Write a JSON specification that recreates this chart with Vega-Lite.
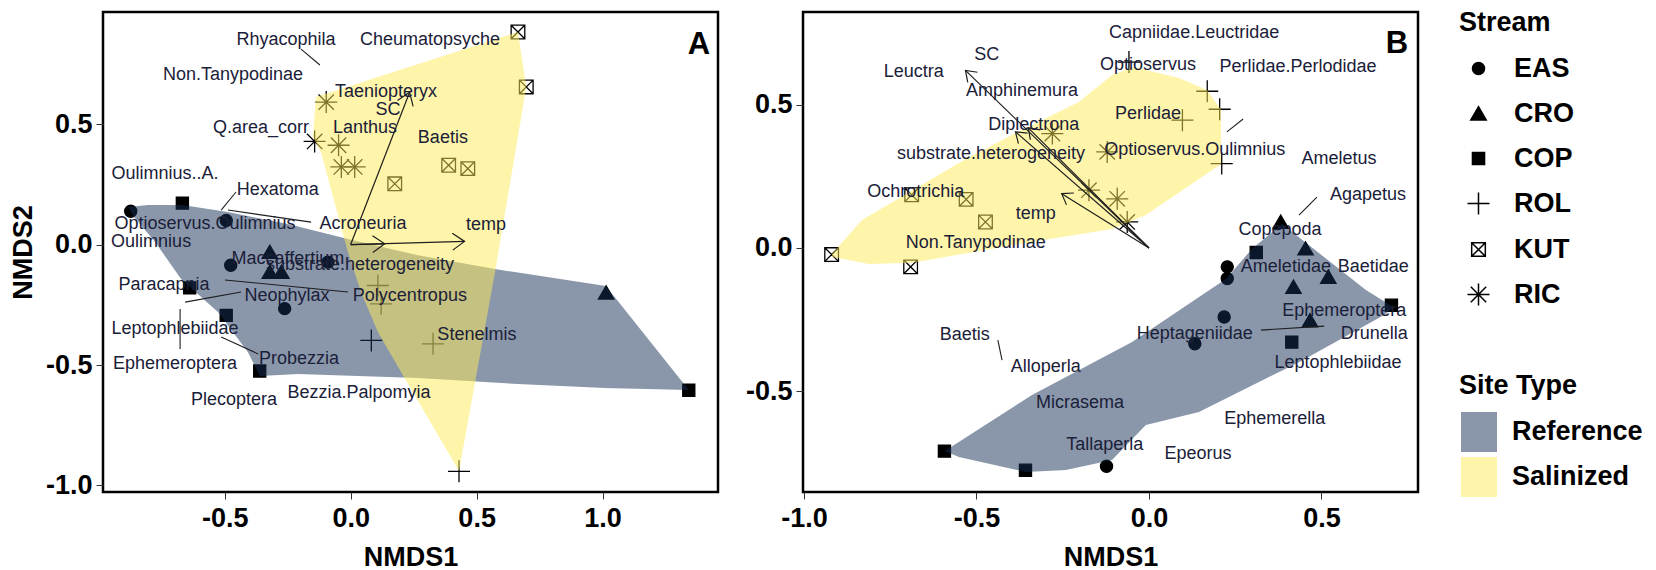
{
  "$schema": "https://vega.github.io/schema/vega-lite/v6.json",
  "padding": {"left": 8, "top": 10, "right": 0, "bottom": 0},
  "background": "white",
  "config": {
    "locale": {"number": {"decimal": ".", "thousands": ",", "grouping": [3], "currency": ["$", ""], "minus": "-"}},
    "view": {"stroke": "black", "strokeWidth": 2.5},
    "axis": {
      "grid": false, "domain": false, "tickColor": "#333", "tickSize": 7, "tickWidth": 1,
      "labelFont": "Liberation Sans", "labelFontSize": 27, "labelFontWeight": "bold", "labelColor": "black",
      "titleFont": "Liberation Sans", "titleFontSize": 27, "titleFontWeight": "bold", "titleColor": "black"
    },
    "axisX": {"labelPadding": 6, "titlePadding": 13},
    "axisY": {"labelPadding": 4, "titlePadding": 8},
    "legend": {
      "labelFont": "Liberation Sans", "labelFontSize": 27, "labelFontWeight": "bold", "labelColor": "black",
      "titleFont": "Liberation Sans", "titleFontSize": 27, "titleFontWeight": "bold", "titleColor": "black"
    }
  },
  "datasets": {
    "sitesA": [
      {"Stream": "EAS", "x": -0.873, "y": 0.138}, {"Stream": "EAS", "x": -0.494, "y": 0.100}, {"Stream": "EAS", "x": -0.476, "y": -0.086},
      {"Stream": "EAS", "x": -0.090, "y": -0.073}, {"Stream": "EAS", "x": -0.262, "y": -0.266},
      {"Stream": "CRO", "x": -0.321, "y": -0.031}, {"Stream": "CRO", "x": -0.321, "y": -0.114}, {"Stream": "CRO", "x": -0.275, "y": -0.114},
      {"Stream": "CRO", "x": 1.014, "y": -0.200},
      {"Stream": "COP", "x": -0.668, "y": 0.172}, {"Stream": "COP", "x": -0.639, "y": -0.180}, {"Stream": "COP", "x": -0.494, "y": -0.294},
      {"Stream": "COP", "x": -0.361, "y": -0.525}, {"Stream": "COP", "x": 1.342, "y": -0.605},
      {"Stream": "ROL", "x": 0.430, "y": -0.941}, {"Stream": "ROL", "x": 0.327, "y": -0.412}, {"Stream": "ROL", "x": 0.082, "y": -0.398},
      {"Stream": "ROL", "x": 0.108, "y": -0.170}, {"Stream": "ROL", "x": 0.121, "y": -0.246},
      {"Stream": "KUT", "x": 0.664, "y": 0.882}, {"Stream": "KUT", "x": 0.697, "y": 0.654}, {"Stream": "KUT", "x": 0.389, "y": 0.329},
      {"Stream": "KUT", "x": 0.465, "y": 0.315}, {"Stream": "KUT", "x": 0.175, "y": 0.252},
      {"Stream": "RIC", "x": -0.097, "y": 0.591}, {"Stream": "RIC", "x": -0.143, "y": 0.428}, {"Stream": "RIC", "x": -0.048, "y": 0.412},
      {"Stream": "RIC", "x": -0.037, "y": 0.322}, {"Stream": "RIC", "x": 0.016, "y": 0.322}
    ],
    "sitesB": [
      {"Stream": "KUT", "x": -0.920, "y": -0.023}, {"Stream": "KUT", "x": -0.691, "y": -0.066}, {"Stream": "KUT", "x": -0.688, "y": 0.186},
      {"Stream": "KUT", "x": -0.530, "y": 0.170}, {"Stream": "KUT", "x": -0.474, "y": 0.091},
      {"Stream": "RIC", "x": -0.280, "y": 0.400}, {"Stream": "RIC", "x": -0.121, "y": 0.336}, {"Stream": "RIC", "x": -0.174, "y": 0.202},
      {"Stream": "RIC", "x": -0.092, "y": 0.172}, {"Stream": "RIC", "x": -0.063, "y": 0.091},
      {"Stream": "ROL", "x": -0.058, "y": 0.650}, {"Stream": "ROL", "x": 0.169, "y": 0.548}, {"Stream": "ROL", "x": 0.205, "y": 0.485},
      {"Stream": "ROL", "x": 0.097, "y": 0.447}, {"Stream": "ROL", "x": 0.211, "y": 0.295},
      {"Stream": "EAS", "x": 0.227, "y": -0.066}, {"Stream": "EAS", "x": 0.227, "y": -0.107}, {"Stream": "EAS", "x": 0.218, "y": -0.241},
      {"Stream": "EAS", "x": 0.133, "y": -0.335}, {"Stream": "EAS", "x": -0.123, "y": -0.763},
      {"Stream": "CRO", "x": 0.382, "y": 0.091}, {"Stream": "CRO", "x": 0.454, "y": -0.002}, {"Stream": "CRO", "x": 0.520, "y": -0.101},
      {"Stream": "CRO", "x": 0.419, "y": -0.136}, {"Stream": "CRO", "x": 0.467, "y": -0.253},
      {"Stream": "COP", "x": 0.311, "y": -0.016}, {"Stream": "COP", "x": 0.703, "y": -0.200}, {"Stream": "COP", "x": 0.414, "y": -0.329},
      {"Stream": "COP", "x": -0.593, "y": -0.710}, {"Stream": "COP", "x": -0.358, "y": -0.777}
    ],
    "hullA": [
      {"SiteType": "Reference", "i": 1, "x": -0.883, "y": 0.156}, {"SiteType": "Reference", "i": 2, "x": -0.804, "y": 0.164},
      {"SiteType": "Reference", "i": 3, "x": -0.669, "y": 0.164}, {"SiteType": "Reference", "i": 4, "x": -0.487, "y": 0.135},
      {"SiteType": "Reference", "i": 5, "x": -0.249, "y": 0.085}, {"SiteType": "Reference", "i": 6, "x": -0.011, "y": 0.023},
      {"SiteType": "Reference", "i": 7, "x": 0.267, "y": -0.044}, {"SiteType": "Reference", "i": 8, "x": 0.573, "y": -0.102},
      {"SiteType": "Reference", "i": 9, "x": 1.013, "y": -0.172}, {"SiteType": "Reference", "i": 10, "x": 1.342, "y": -0.604},
      {"SiteType": "Reference", "i": 11, "x": 1.009, "y": -0.595}, {"SiteType": "Reference", "i": 12, "x": 0.664, "y": -0.579},
      {"SiteType": "Reference", "i": 13, "x": 0.267, "y": -0.554}, {"SiteType": "Reference", "i": 14, "x": -0.209, "y": -0.537},
      {"SiteType": "Reference", "i": 15, "x": -0.360, "y": -0.546}, {"SiteType": "Reference", "i": 16, "x": -0.408, "y": -0.446},
      {"SiteType": "Reference", "i": 17, "x": -0.527, "y": -0.280}, {"SiteType": "Reference", "i": 18, "x": -0.673, "y": -0.143},
      {"SiteType": "Reference", "i": 19, "x": -0.776, "y": 0.010}, {"SiteType": "Reference", "i": 20, "x": -0.863, "y": 0.118},
      {"SiteType": "Salinized", "i": 1, "x": -0.138, "y": 0.612}, {"SiteType": "Salinized", "i": 2, "x": 0.664, "y": 0.882},
      {"SiteType": "Salinized", "i": 3, "x": 0.697, "y": 0.654}, {"SiteType": "Salinized", "i": 4, "x": 0.573, "y": -0.114},
      {"SiteType": "Salinized", "i": 5, "x": 0.494, "y": -0.571}, {"SiteType": "Salinized", "i": 6, "x": 0.430, "y": -0.940},
      {"SiteType": "Salinized", "i": 7, "x": 0.200, "y": -0.529}, {"SiteType": "Salinized", "i": 8, "x": 0.108, "y": -0.363},
      {"SiteType": "Salinized", "i": 9, "x": 0.041, "y": -0.197}, {"SiteType": "Salinized", "i": 10, "x": -0.011, "y": -0.031},
      {"SiteType": "Salinized", "i": 11, "x": -0.118, "y": 0.384}, {"SiteType": "Salinized", "i": 12, "x": -0.150, "y": 0.446}
    ],
    "hullB": [
      {"SiteType": "Reference", "i": 1, "x": -0.592, "y": -0.710}, {"SiteType": "Reference", "i": 2, "x": -0.339, "y": -0.514},
      {"SiteType": "Reference", "i": 3, "x": -0.049, "y": -0.329}, {"SiteType": "Reference", "i": 4, "x": 0.223, "y": -0.108},
      {"SiteType": "Reference", "i": 5, "x": 0.299, "y": -0.003}, {"SiteType": "Reference", "i": 6, "x": 0.386, "y": 0.084},
      {"SiteType": "Reference", "i": 7, "x": 0.629, "y": -0.147}, {"SiteType": "Reference", "i": 8, "x": 0.708, "y": -0.206},
      {"SiteType": "Reference", "i": 9, "x": 0.687, "y": -0.231}, {"SiteType": "Reference", "i": 10, "x": 0.435, "y": -0.399},
      {"SiteType": "Reference", "i": 11, "x": 0.145, "y": -0.573}, {"SiteType": "Reference", "i": 12, "x": -0.009, "y": -0.619},
      {"SiteType": "Reference", "i": 13, "x": -0.107, "y": -0.741}, {"SiteType": "Reference", "i": 14, "x": -0.241, "y": -0.776},
      {"SiteType": "Reference", "i": 15, "x": -0.357, "y": -0.783}, {"SiteType": "Reference", "i": 16, "x": -0.551, "y": -0.731},
      {"SiteType": "Salinized", "i": 1, "x": -0.919, "y": -0.021}, {"SiteType": "Salinized", "i": 2, "x": -0.832, "y": 0.098},
      {"SiteType": "Salinized", "i": 3, "x": -0.531, "y": 0.311}, {"SiteType": "Salinized", "i": 4, "x": -0.397, "y": 0.395},
      {"SiteType": "Salinized", "i": 5, "x": -0.203, "y": 0.510}, {"SiteType": "Salinized", "i": 6, "x": -0.107, "y": 0.605},
      {"SiteType": "Salinized", "i": 7, "x": -0.044, "y": 0.633}, {"SiteType": "Salinized", "i": 8, "x": 0.087, "y": 0.594},
      {"SiteType": "Salinized", "i": 9, "x": 0.168, "y": 0.552}, {"SiteType": "Salinized", "i": 10, "x": 0.209, "y": 0.483},
      {"SiteType": "Salinized", "i": 11, "x": 0.209, "y": 0.294}, {"SiteType": "Salinized", "i": 12, "x": -0.009, "y": 0.115},
      {"SiteType": "Salinized", "i": 13, "x": -0.107, "y": 0.066}, {"SiteType": "Salinized", "i": 14, "x": -0.397, "y": 0.010},
      {"SiteType": "Salinized", "i": 15, "x": -0.687, "y": -0.052}, {"SiteType": "Salinized", "i": 16, "x": -0.812, "y": -0.056},
      {"SiteType": "Salinized", "i": 17, "x": -0.919, "y": -0.031}
    ],
    "arrowsA": [
      {"var": "SC", "x": 0.234, "y": 0.632},
      {"var": "temp", "x": 0.452, "y": 0.013},
      {"var": "substrate.heterogeneity", "x": 0.135, "y": 0.003}
    ],
    "arrowsB": [
      {"var": "SC", "x": -0.532, "y": 0.621},
      {"var": "substrate.heterogeneity", "x": -0.387, "y": 0.406},
      {"var": "Q.area_corr", "x": -0.350, "y": 0.420},
      {"var": "temp", "x": -0.253, "y": 0.190}
    ],
    "leadersA": [
      {"x": -0.197, "y": 0.811, "xe": -0.122, "ye": 0.745},
      {"x": -0.455, "y": 0.218, "xe": -0.514, "ye": 0.143},
      {"x": -0.487, "y": 0.143, "xe": -0.157, "ye": 0.093},
      {"x": -0.499, "y": -0.147, "xe": -0.011, "ye": -0.197},
      {"x": -0.657, "y": -0.239, "xe": -0.435, "ye": -0.197},
      {"x": -0.677, "y": -0.268, "xe": -0.677, "ye": -0.434},
      {"x": -0.514, "y": -0.384, "xe": -0.367, "ye": -0.454}
    ],
    "leadersB": [
      {"x": 0.226, "y": 0.406, "xe": 0.273, "ye": 0.451},
      {"x": 0.435, "y": 0.115, "xe": 0.487, "ye": 0.178},
      {"x": 0.325, "y": -0.287, "xe": 0.508, "ye": -0.273},
      {"x": -0.438, "y": -0.322, "xe": -0.426, "ye": -0.392}
    ],
    "labelsA": [
      {"label": "Rhyacophila", "x": -0.257, "y": 0.849},
      {"label": "Cheumatopsyche", "x": 0.315, "y": 0.849},
      {"label": "Non.Tanypodinae", "x": -0.467, "y": 0.703},
      {"label": "Taeniopteryx", "x": 0.140, "y": 0.633},
      {"label": "SC", "x": 0.148, "y": 0.558},
      {"label": "Q.area_corr", "x": -0.356, "y": 0.483},
      {"label": "Lanthus", "x": 0.057, "y": 0.483},
      {"label": "Baetis", "x": 0.366, "y": 0.442},
      {"label": "Oulimnius..A.", "x": -0.737, "y": 0.293},
      {"label": "Hexatoma", "x": -0.289, "y": 0.226},
      {"label": "Optioservus.Oulimnius", "x": -0.578, "y": 0.085},
      {"label": "Acroneuria", "x": 0.049, "y": 0.085},
      {"label": "temp", "x": 0.537, "y": 0.081},
      {"label": "Oulimnius", "x": -0.792, "y": 0.010},
      {"label": "Maccaffertium", "x": -0.249, "y": -0.060},
      {"label": "substrate.heterogeneity", "x": 0.037, "y": -0.085},
      {"label": "Paracapnia", "x": -0.741, "y": -0.168},
      {"label": "Neophylax", "x": -0.253, "y": -0.214},
      {"label": "Polycentropus", "x": 0.235, "y": -0.214},
      {"label": "Leptophlebiidae", "x": -0.697, "y": -0.351},
      {"label": "Probezzia", "x": -0.205, "y": -0.475},
      {"label": "Ephemeroptera", "x": -0.697, "y": -0.496},
      {"label": "Bezzia.Palpomyia", "x": 0.033, "y": -0.616},
      {"label": "Stenelmis", "x": 0.501, "y": -0.376},
      {"label": "Plecoptera", "x": -0.463, "y": -0.645}
    ],
    "labelsB": [
      {"label": "Capniidae.Leuctridae", "x": 0.131, "y": 0.752},
      {"label": "Leuctra", "x": -0.682, "y": 0.615},
      {"label": "SC", "x": -0.470, "y": 0.675},
      {"label": "Optioservus", "x": -0.003, "y": 0.640},
      {"label": "Perlidae.Perlodidae", "x": 0.432, "y": 0.633},
      {"label": "Amphinemura", "x": -0.368, "y": 0.549},
      {"label": "Perlidae", "x": -0.003, "y": 0.469},
      {"label": "Diplectrona", "x": -0.334, "y": 0.430},
      {"label": "substrate.heterogeneity", "x": -0.458, "y": 0.329},
      {"label": "Optioservus.Oulimnius", "x": 0.133, "y": 0.343},
      {"label": "Ameletus", "x": 0.551, "y": 0.311},
      {"label": "Agapetus", "x": 0.635, "y": 0.185},
      {"label": "Ochrotrichia", "x": -0.676, "y": 0.196},
      {"label": "temp", "x": -0.328, "y": 0.119},
      {"label": "Copepoda", "x": 0.380, "y": 0.063},
      {"label": "Non.Tanypodinae", "x": -0.502, "y": 0.017},
      {"label": "Ameletidae", "x": 0.397, "y": -0.066},
      {"label": "Baetidae", "x": 0.650, "y": -0.066},
      {"label": "Ephemeroptera", "x": 0.566, "y": -0.220},
      {"label": "Heptageniidae", "x": 0.133, "y": -0.301},
      {"label": "Drunella", "x": 0.653, "y": -0.301},
      {"label": "Leptophlebiidae", "x": 0.548, "y": -0.402},
      {"label": "Baetis", "x": -0.534, "y": -0.304},
      {"label": "Alloperla", "x": -0.299, "y": -0.416},
      {"label": "Micrasema", "x": -0.200, "y": -0.542},
      {"label": "Ephemerella", "x": 0.365, "y": -0.598},
      {"label": "Tallaperla", "x": -0.128, "y": -0.689},
      {"label": "Epeorus", "x": 0.142, "y": -0.720}
    ],
    "tagA": [{"tag": "A", "x": 1.382, "y": 0.828}],
    "tagB": [{"tag": "B", "x": 0.719, "y": 0.713}]
  },
  "spacing": 24,
  "resolve": {"scale": {"x": "independent", "y": "independent"}},
  "hconcat": [
    {
      "width": 615,
      "height": 480,
      "encoding": {
        "x": {"field": "x", "type": "quantitative", "scale": {"domain": [-0.983, 1.458], "nice": false, "zero": false},
              "axis": {"title": "NMDS1", "values": [-0.5, 0, 0.5, 1], "format": ".1f"}},
        "y": {"field": "y", "type": "quantitative", "scale": {"domain": [-1.027, 0.965], "nice": false, "zero": false},
              "axis": {"title": "NMDS2", "values": [-1, -0.5, 0, 0.5], "format": ".1f"}}
      },
      "layer": [
        {
          "data": {"name": "sitesA"},
          "mark": {"type": "point", "filled": true, "stroke": "black", "strokeWidth": 1.3, "size": 484, "opacity": 1},
          "encoding": {
            "shape": {"field": "Stream", "type": "nominal",
              "scale": {"domain": ["EAS", "CRO", "COP", "ROL", "KUT", "RIC"],
                        "range": ["M-0.55,0A0.55,0.55,0,1,0,0.55,0A0.55,0.55,0,1,0,-0.55,0Z",
                                  "M0,-0.62L0.7,0.58L-0.7,0.58Z",
                                  "M-0.55,-0.55H0.55V0.55H-0.55Z",
                                  "M-1,0H1M0,-1V1",
                                  "M-0.62,-0.62H0.62V0.62H-0.62ZM-0.62,-0.62L0.62,0.62M-0.62,0.62L0.62,-0.62",
                                  "M-1,0H1M0,-1V1M-0.7,-0.7L0.7,0.7M-0.7,0.7L0.7,-0.7"]},
              "legend": {"title": "Stream", "orient": "none", "legendX": 1356, "legendY": -2, "symbolSize": 484, "symbolOffset": 6,
                         "labelOffset": 22, "rowPadding": 17, "titlePadding": 18,
                         "encode": {"symbols": {"update": {"stroke": {"value": "black"}, "strokeWidth": {"value": 1.3}}}}}},
            "color": {"field": "Stream", "type": "nominal",
              "scale": {"domain": ["EAS", "CRO", "COP", "ROL", "KUT", "RIC"],
                        "range": ["black", "black", "black", "transparent", "transparent", "transparent"]},
              "legend": {"title": "Stream", "orient": "none", "legendX": 1356, "legendY": -2, "symbolSize": 484, "symbolOffset": 6,
                         "labelOffset": 22, "rowPadding": 17, "titlePadding": 18,
                         "encode": {"symbols": {"update": {"stroke": {"value": "black"}, "strokeWidth": {"value": 1.3}}}}}}
          }
        },
        {
          "data": {"name": "hullA"},
          "transform": [{"filter": "datum.SiteType == 'Reference'"}],
          "mark": {"type": "line", "interpolate": "linear-closed", "strokeWidth": 0, "fillOpacity": 0.5},
          "encoding": {
            "order": {"field": "i", "type": "quantitative"},
            "fill": {"field": "SiteType", "type": "nominal",
              "scale": {"domain": ["Reference", "Salinized"], "range": ["#152F57", "#FFEB55"]},
              "legend": {"title": "Site Type", "orient": "none", "legendX": 1356, "legendY": 361,
                         "symbolType": "M-0.9,-1H0.9V1H-0.9Z", "symbolSize": 1600, "labelOffset": 13, "rowPadding": 5, "titlePadding": 12,
                         "symbolOpacity": 0.5, "symbolStrokeWidth": 0, "symbolStrokeColor": "transparent",
                         "encode": {"symbols": {"update": {"opacity": {"value": 0.5}, "fillOpacity": {"value": 1}, "stroke": {"value": "transparent"}, "strokeWidth": {"value": 0}}}}}}
          }
        },
        {
          "data": {"name": "hullA"},
          "transform": [{"filter": "datum.SiteType == 'Salinized'"}],
          "mark": {"type": "line", "interpolate": "linear-closed", "strokeWidth": 0, "fillOpacity": 0.5},
          "encoding": {
            "order": {"field": "i", "type": "quantitative"},
            "fill": {"field": "SiteType", "type": "nominal"}
          }
        },
        {
          "data": {"name": "arrowsA"},
          "mark": {"type": "rule", "color": "#1e1e1e", "strokeWidth": 1.2},
          "encoding": {"x2": {"datum": 0}, "y2": {"datum": 0}}
        },
        {
          "data": {"name": "arrowsA"},
          "transform": [{"calculate": "atan2(-datum.y * 241, datum.x * 252) * 180 / PI", "as": "heading"}],
          "mark": {"type": "point", "shape": "M-1,-0.7L0,0L-1,0.7", "size": 576, "filled": false, "stroke": "#1e1e1e", "strokeWidth": 1.2, "opacity": 1},
          "encoding": {"angle": {"field": "heading", "type": "quantitative", "scale": null}}
        },
        {
          "data": {"name": "leadersA"},
          "mark": {"type": "rule", "color": "#1e1e1e", "strokeWidth": 1.1},
          "encoding": {"x2": {"field": "xe"}, "y2": {"field": "ye"}}
        },
        {
          "data": {"name": "labelsA"},
          "mark": {"type": "text", "font": "Liberation Sans", "fontSize": 18, "fill": "#1a2038"},
          "encoding": {"text": {"field": "label"}}
        },
        {
          "data": {"name": "tagA"},
          "mark": {"type": "text", "font": "Liberation Sans", "fontSize": 31, "fontWeight": "bold", "fill": "black"},
          "encoding": {"text": {"field": "tag"}}
        }
      ]
    },
    {
      "width": 615,
      "height": 480,
      "encoding": {
        "x": {"field": "x", "type": "quantitative", "scale": {"domain": [-1.003, 0.780], "nice": false, "zero": false},
              "axis": {"title": "NMDS1", "values": [-1, -0.5, 0, 0.5], "format": ".1f"}},
        "y": {"field": "y", "type": "quantitative", "scale": {"domain": [-0.853, 0.825], "nice": false, "zero": false},
              "axis": {"title": null, "values": [-0.5, 0, 0.5], "format": ".1f"}}
      },
      "layer": [
        {
          "data": {"name": "sitesB"},
          "mark": {"type": "point", "filled": true, "stroke": "black", "strokeWidth": 1.3, "size": 484, "opacity": 1},
          "encoding": {
            "shape": {"field": "Stream", "type": "nominal"},
            "color": {"field": "Stream", "type": "nominal"}
          }
        },
        {
          "data": {"name": "hullB"},
          "transform": [{"filter": "datum.SiteType == 'Reference'"}],
          "mark": {"type": "line", "interpolate": "linear-closed", "strokeWidth": 0, "fillOpacity": 0.5},
          "encoding": {
            "order": {"field": "i", "type": "quantitative"},
            "fill": {"field": "SiteType", "type": "nominal"}
          }
        },
        {
          "data": {"name": "hullB"},
          "transform": [{"filter": "datum.SiteType == 'Salinized'"}],
          "mark": {"type": "line", "interpolate": "linear-closed", "strokeWidth": 0, "fillOpacity": 0.5},
          "encoding": {
            "order": {"field": "i", "type": "quantitative"},
            "fill": {"field": "SiteType", "type": "nominal"}
          }
        },
        {
          "data": {"name": "arrowsB"},
          "mark": {"type": "rule", "color": "#1e1e1e", "strokeWidth": 1.2},
          "encoding": {"x2": {"datum": 0}, "y2": {"datum": 0}}
        },
        {
          "data": {"name": "arrowsB"},
          "transform": [{"calculate": "atan2(-datum.y * 286, datum.x * 345) * 180 / PI", "as": "heading"}],
          "mark": {"type": "point", "shape": "M-1,-0.7L0,0L-1,0.7", "size": 400, "filled": false, "stroke": "#1e1e1e", "strokeWidth": 1.2, "opacity": 1},
          "encoding": {"angle": {"field": "heading", "type": "quantitative", "scale": null}}
        },
        {
          "data": {"name": "leadersB"},
          "mark": {"type": "rule", "color": "#1e1e1e", "strokeWidth": 1.1},
          "encoding": {"x2": {"field": "xe"}, "y2": {"field": "ye"}}
        },
        {
          "data": {"name": "labelsB"},
          "mark": {"type": "text", "font": "Liberation Sans", "fontSize": 18, "fill": "#1a2038"},
          "encoding": {"text": {"field": "label"}}
        },
        {
          "data": {"name": "tagB"},
          "mark": {"type": "text", "font": "Liberation Sans", "fontSize": 31, "fontWeight": "bold", "fill": "black"},
          "encoding": {"text": {"field": "tag"}}
        }
      ]
    }
  ]
}
